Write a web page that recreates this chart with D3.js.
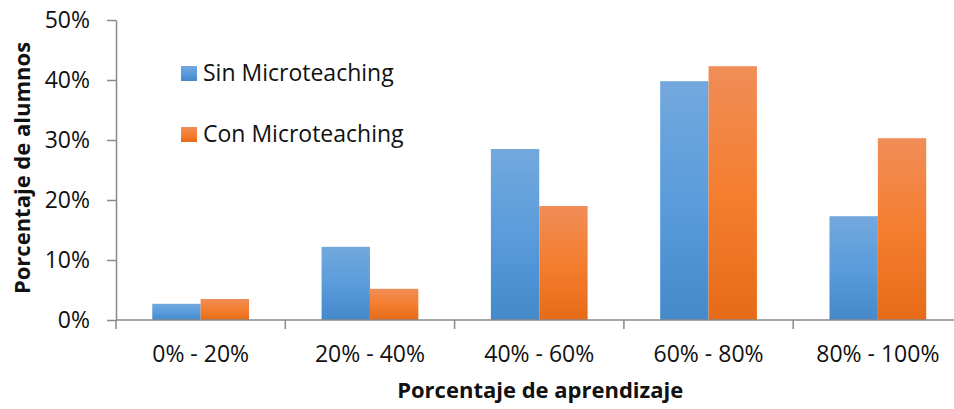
<!DOCTYPE html>
<html>
<head>
<meta charset="utf-8">
<script src="https://cdn.jsdelivr.net/npm/d3@7"></script>
<style>
  html, body { margin: 0; padding: 0; background: #fff; }
  svg { display: block; font-family: "Open Sans", sans-serif; }
</style>
</head>
<body>
<svg id="chart" width="954" height="409"></svg>
<script>
// Learning ranges on the x axis
const categories = ["0% - 20%", "20% - 40%", "40% - 60%", "60% - 80%", "80% - 100%"];
// Share of students per range (percent)
const sinMicroteaching = [2.7, 12.2, 28.5, 39.8, 17.3];
const conMicroteaching = [3.5, 5.2, 19.0, 42.3, 30.3];
const seriesNames = ["Sin Microteaching", "Con Microteaching"];
const yTicks = [0, 10, 20, 30, 40, 50];

const svg = d3.select("#chart");
const plotLeft = 116, plotTop = 20, plotBottom = 320;
const bandW = 169.3;
const plotRight = plotLeft + bandW * categories.length;

const rows = categories.map((c, i) => ({
  cat: c,
  values: [sinMicroteaching[i], conMicroteaching[i]]
}));

const x0 = d3.scaleBand().domain(categories).range([plotLeft, plotRight]).padding(0);
const x1 = d3.scaleBand().domain(seriesNames).range([0, x0.bandwidth()])
  .paddingInner(0).paddingOuter(0.75);
const y = d3.scaleLinear().domain([0, 50]).range([plotBottom, plotTop]);

// Vertical gradients for each series
const defs = svg.append("defs");
const gradStops = [
  [["0%", "#73a8dd"], ["50%", "#5a9cdc"], ["100%", "#4589cb"]],
  [["0%", "#f18d58"], ["50%", "#f47e2f"], ["100%", "#e66b18"]]
];
const gradIds = ["gradSin", "gradCon"];
gradStops.forEach((stops, i) => {
  const g = defs.append("linearGradient").attr("id", gradIds[i])
    .attr("x1", 0).attr("y1", 0).attr("x2", 0).attr("y2", 1);
  stops.forEach(s => g.append("stop").attr("offset", s[0]).attr("stop-color", s[1]));
});

// Bars
const groups = svg.append("g").selectAll("g").data(rows).join("g")
  .attr("transform", d => `translate(${x0(d.cat)},0)`);
groups.selectAll("rect")
  .data(d => d.values.map((v, i) => ({ v, i })))
  .join("rect")
  .attr("x", d => x1(seriesNames[d.i]))
  .attr("width", x1.bandwidth())
  .attr("y", d => y(d.v))
  .attr("height", d => y(0) - y(d.v))
  .attr("fill", d => `url(#${gradIds[d.i]})`);

const axisColor = "#898989";

// Y axis
const yAxis = svg.append("g").attr("transform", `translate(${plotLeft},0)`)
  .call(d3.axisLeft(y).tickValues(yTicks).tickSize(9).tickSizeOuter(0)
    .tickPadding(17).tickFormat(d => d + "%"));
yAxis.select(".domain").attr("stroke", axisColor).attr("stroke-width", 1.5);
yAxis.selectAll(".tick line").attr("stroke", axisColor).attr("stroke-width", 1.5);
yAxis.selectAll("text").attr("font-size", 23).attr("fill", "#111")
  .attr("font-family", "Open Sans, sans-serif");

// X axis: category labels
const xAxis = svg.append("g").attr("transform", `translate(0,${plotBottom})`)
  .call(d3.axisBottom(x0).tickSize(0).tickSizeOuter(0).tickPadding(26));
xAxis.select(".domain").remove();
xAxis.selectAll("text").attr("font-size", 23).attr("fill", "#111")
  .attr("font-family", "Open Sans, sans-serif");

// X axis line and tick marks at category boundaries
svg.append("line")
  .attr("x1", plotLeft).attr("x2", plotRight).attr("y1", y(0)).attr("y2", y(0))
  .attr("stroke", axisColor).attr("stroke-width", 1.5);
svg.append("g").selectAll("line").data(categories).join("line")
  .attr("x1", d => x0(d)).attr("x2", d => x0(d))
  .attr("y1", y(0)).attr("y2", y(0) + 9)
  .attr("stroke", axisColor).attr("stroke-width", 1.5);

// Axis titles
svg.append("text")
  .attr("x", (plotLeft + plotRight) / 2 + 1).attr("y", 398)
  .attr("text-anchor", "middle").attr("font-weight", "bold")
  .attr("font-size", 22).attr("fill", "#111")
  .text("Porcentaje de aprendizaje");
svg.append("text")
  .attr("transform", `translate(30,${(plotTop + plotBottom) / 2 - 2}) rotate(-90)`)
  .attr("text-anchor", "middle").attr("font-weight", "bold")
  .attr("font-size", 22).attr("fill", "#111")
  .text("Porcentaje de alumnos");

// Legend
const legend = svg.append("g").selectAll("g").data(seriesNames).join("g")
  .attr("transform", (d, i) => `translate(181,${66 + i * 61})`);
legend.append("rect").attr("width", 16).attr("height", 15)
  .attr("fill", (d, i) => `url(#${gradIds[i]})`);
legend.append("text").attr("x", 22).attr("y", 15)
  .attr("font-size", 23).attr("fill", "#111").text(d => d);
</script>
</body>
</html>
